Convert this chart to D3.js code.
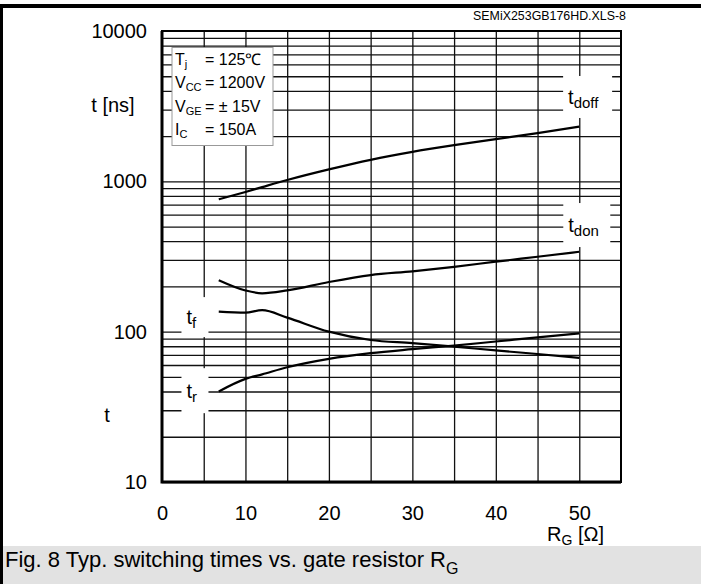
<!DOCTYPE html>
<html>
<head>
<meta charset="utf-8">
<script src="https://cdn.jsdelivr.net/npm/d3@7"></script>
<style>
  body { margin: 0; background: #fff; }
  svg text { font-family: "Liberation Sans", Arial, sans-serif; fill: #000; }
</style>
</head>
<body>
<div class="chart"></div>
<script>
// gate resistor values [Ohm]
const rg = [6.8, 10, 12, 15, 20, 25, 30, 35, 40, 45, 50];
// switching times [ns]
const tDoff = [760, 850, 915, 1020, 1200, 1390, 1570, 1740, 1910, 2090, 2310];
const tDon = [220, 188, 180, 188, 214, 238, 252, 270, 292, 315, 340];
const tF = [136, 134, 139, 124, 100, 88, 84, 79.5, 75, 71, 67];
const tR = [40, 48.5, 52, 58, 66, 72, 76.5, 80.8, 86, 91.6, 97.4];

const xTicks = [0, 10, 20, 30, 40, 50];
const yTicks = [10, 100, 1000, 10000];
const xGrid = [5, 10, 15, 20, 25, 30, 35, 40, 45, 50];

const series = [
    {name: 'doff', values: tDoff},
    {name: 'don', values: tDon},
    {name: 'f', values: tF},
    {name: 'r', values: tR}
];

// curve labels: anchor in data units, box size in px
const curveLabels = [
    {sub: 'doff', x: 51, y: 3640, w: 49, h: 42},
    {sub: 'don', x: 50.9, y: 512, w: 47, h: 44},
    {sub: 'f', x: 3.95, y: 125, w: 27, h: 40},
    {sub: 'r', x: 3.95, y: 40.5, w: 27, h: 45}
];

const conditions = [
    ['T', 'j', '= 125\u2103'],
    ['V', 'CC', '= 1200V'],
    ['V', 'GE', '= \u00b1 15V'],
    ['I', 'C', '= 150A']
];

class SwitchingChart {
    constructor() {
        this.width = 701;
        this.height = 584;
        this.plot = {left: 162, top: 31, right: 621, bottom: 482};
    }

    render() {
        let p = this.plot;
        let svg = d3.select('.chart').append('svg')
            .attr('width', this.width)
            .attr('height', this.height);

        // outer frame + caption band
        svg.append('rect').attr('x', 3).attr('y', 546).attr('width', this.width - 3).attr('height', 38)
            .style('fill', '#e2e2e2');
        svg.append('rect').attr('x', 0).attr('y', 4).attr('width', this.width).attr('height', 4).style('fill', '#000');
        svg.append('rect').attr('x', 0).attr('y', 4).attr('width', 3).attr('height', this.height - 4).style('fill', '#000');

        let x = d3.scaleLinear().domain([0, 55]).range([p.left, p.right]);
        let y = d3.scaleLog().domain([10, 10000]).range([p.bottom, p.top]);

        // horizontal grid (1..9 per decade)
        let yGrid = [];
        [10, 100, 1000].forEach(d => { for (let k = 1; k <= 9; k++) yGrid.push(d * k); });
        svg.append('g')
            .attr('transform', 'translate(' + p.left + ',0)')
            .call(d3.axisLeft(y).tickValues(yGrid).tickSize(-(p.right - p.left)).tickFormat(''))
            .call(g => g.select('.domain').remove())
            .selectAll('line').style('stroke', '#111').style('stroke-width', 1.3);

        // vertical grid
        svg.append('g')
            .attr('transform', 'translate(0,' + p.bottom + ')')
            .call(d3.axisBottom(x).tickValues(xGrid).tickSize(-(p.bottom - p.top)).tickFormat(''))
            .call(g => g.select('.domain').remove())
            .selectAll('line').style('stroke', '#111').style('stroke-width', 1.3);

        // white label boxes break the grid
        svg.selectAll('.lbl_box')
            .data(curveLabels)
            .enter().append('rect')
            .attr('x', d => x(d.x) - d.w / 2)
            .attr('y', d => y(d.y) - d.h / 2)
            .attr('width', d => d.w)
            .attr('height', d => d.h)
            .style('fill', '#fff');

        // plot frame
        svg.append('rect')
            .attr('x', p.left).attr('y', p.top)
            .attr('width', p.right - p.left).attr('height', p.bottom - p.top)
            .style('fill', 'none').style('stroke', '#000').style('stroke-width', 2);
        svg.append('path')
            .attr('d', 'M' + p.left + ',' + p.top + 'V' + p.bottom + 'H' + p.right)
            .style('fill', 'none').style('stroke', '#000').style('stroke-width', 3);

        // curves
        let line = d3.line()
            .x((d, i) => x(rg[i]))
            .y(d => y(d))
            .curve(d3.curveMonotoneX);
        svg.selectAll('.curve')
            .data(series)
            .enter().append('path')
            .attr('d', d => line(d.values))
            .style('fill', 'none')
            .style('stroke', '#000')
            .style('stroke-width', 2.2);

        // curve labels
        let lt = svg.selectAll('.lbl_text')
            .data(curveLabels)
            .enter().append('text')
            .attr('x', d => x(d.x) - d.w / 2 + 5)
            .attr('y', d => y(d.y) + 7)
            .style('font-size', '20px');
        lt.append('tspan').text('t');
        lt.append('tspan').attr('dy', 4).style('font-size', '15px').text(d => d.sub);

        // conditions box
        svg.append('rect')
            .attr('x', 172).attr('y', 47.5).attr('width', 101).attr('height', 98)
            .style('fill', '#fff').style('stroke', '#999').style('stroke-width', 1);
        conditions.forEach((c, i) => {
            let by = 64.5 + i * 23.5;
            let t = svg.append('text').attr('x', 175).attr('y', by).style('font-size', '16px');
            t.append('tspan').text(c[0]);
            t.append('tspan').attr('dy', 3).style('font-size', '11px').text(c[1]);
            svg.append('text').attr('x', 205).attr('y', by).style('font-size', '16px').text(c[2]);
        });

        // axes labels
        svg.append('g')
            .attr('transform', 'translate(0,' + p.bottom + ')')
            .call(d3.axisBottom(x).tickValues(xTicks).tickSize(0).tickPadding(24))
            .call(g => g.select('.domain').remove())
            .selectAll('text').style('font-size', '20px').style('font-family', '"Liberation Sans", Arial, sans-serif');

        svg.append('g')
            .attr('transform', 'translate(' + (p.left - 15) + ',0)')
            .call(d3.axisLeft(y).tickValues(yTicks).tickSize(0).tickPadding(0).tickFormat(d3.format('d')))
            .call(g => g.select('.domain').remove())
            .selectAll('text').style('font-size', '20px').style('font-family', '"Liberation Sans", Arial, sans-serif');

        svg.append('text').attr('x', 113).attr('y', 112).attr('text-anchor', 'middle')
            .style('font-size', '20px').text('t [ns]');
        svg.append('text').attr('x', 107).attr('y', 422).attr('text-anchor', 'middle')
            .style('font-size', '20px').text('t');

        let rl = svg.append('text').attr('x', 547).attr('y', 541).style('font-size', '20px');
        rl.append('tspan').text('R');
        rl.append('tspan').attr('dy', 4).style('font-size', '14px').text('G');
        rl.append('tspan').attr('dy', -4).text(' [\u03a9]');

        svg.append('text').attr('x', 626).attr('y', 20).attr('text-anchor', 'end')
            .style('font-size', '12.4px').text('SEMiX253GB176HD.XLS-8');

        let cap = svg.append('text').attr('x', 5).attr('y', 567).style('font-size', '22px');
        cap.append('tspan').text('Fig. 8 Typ. switching times vs. gate resistor R');
        cap.append('tspan').attr('dy', 7).style('font-size', '16px').text('G');
    }
}

new SwitchingChart().render();
</script>
</body>
</html>
